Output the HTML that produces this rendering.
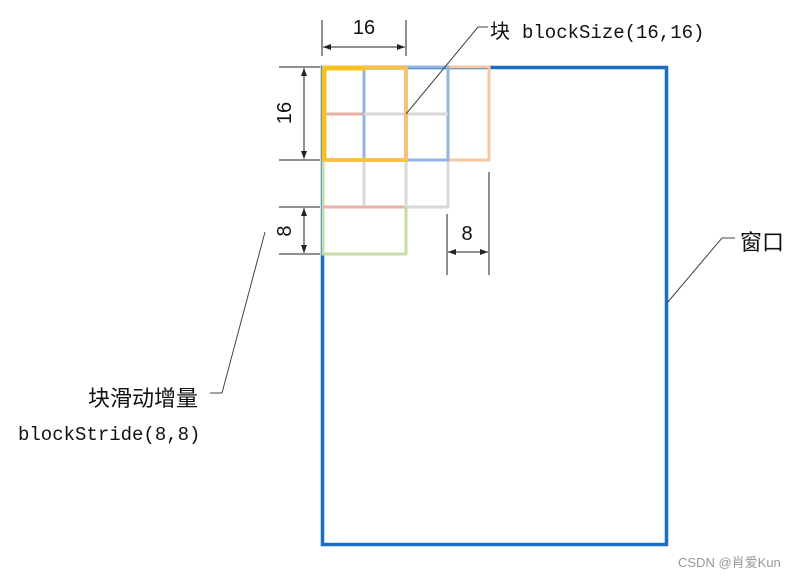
<!DOCTYPE html>
<html><head><meta charset="utf-8"><style>
html,body{margin:0;padding:0;background:#fff;}
svg{display:block;}
text{font-family:"Liberation Sans","Noto Sans CJK SC",sans-serif;}
.m{font-family:"Liberation Mono","Noto Sans CJK SC",monospace;}
</style></head><body>
<svg width="801" height="579" viewBox="0 0 801 579" xmlns="http://www.w3.org/2000/svg">
<defs>
<marker id="a" markerWidth="8" markerHeight="6" refX="8" refY="3" orient="auto-start-reverse" markerUnits="userSpaceOnUse">
<path d="M0,0 L8,3 L0,6 Z" fill="#222"/></marker>
</defs>
<rect x="322.5" y="67.5" width="344" height="477" fill="none" stroke="#1a6fc2" stroke-width="3.5"/>
<g fill="none" stroke-width="3">
<rect x="364" y="114" width="84" height="93" stroke="#d9d9d9"/>
<rect x="323" y="114" width="83" height="93" stroke="#eab0a6"/>
<rect x="323" y="160" width="83" height="94" stroke="#c5dba8"/>
<rect x="406" y="67" width="83" height="93" stroke="#f6c7a2"/>
<rect x="364" y="67" width="84" height="93" stroke="#93b4e2"/>
<line x1="364" y1="114" x2="448" y2="114" stroke="#d9d9d9"/>
<line x1="406" y1="114" x2="406" y2="207" stroke="#d9d9d9"/>
<line x1="364" y1="160" x2="364" y2="207" stroke="#d9d9d9"/>
<line x1="323" y1="207" x2="364" y2="207" stroke="#eab0a6"/>
<rect x="324" y="68" width="82" height="92" stroke="#f8c24a" stroke-width="4"/>
<line x1="406" y1="68" x2="406" y2="160" stroke="#f6c27a" stroke-width="4"/>
<line x1="324" y1="68" x2="364" y2="68" stroke="#f8c020" stroke-width="5"/>
<line x1="324" y1="68" x2="324" y2="160" stroke="#f8c020" stroke-width="5"/>
</g>
<g stroke="#222" stroke-width="1" fill="none">
<line x1="322" y1="20" x2="322" y2="56"/>
<line x1="406" y1="20" x2="406" y2="56"/>
<line x1="323" y1="47" x2="405" y2="47" marker-start="url(#a)" marker-end="url(#a)"/>
<line x1="279" y1="67" x2="320" y2="67"/>
<line x1="279" y1="160" x2="320" y2="160"/>
<line x1="304" y1="68" x2="304" y2="159" marker-start="url(#a)" marker-end="url(#a)"/>
<line x1="279" y1="207" x2="320" y2="207"/>
<line x1="279" y1="254" x2="320" y2="254"/>
<line x1="304" y1="208" x2="304" y2="253" marker-start="url(#a)" marker-end="url(#a)"/>
<line x1="447" y1="214" x2="447" y2="275"/>
<line x1="489" y1="172" x2="489" y2="275"/>
<line x1="448" y1="252" x2="488" y2="252" marker-start="url(#a)" marker-end="url(#a)"/>
<polyline points="406,114 478,27 488,27" stroke="#444"/>
<polyline points="667,303 722,238 735,238" stroke="#444"/>
<polyline points="210,393 222,393 265,232" stroke="#444"/>
</g>
<g fill="#111">
<text x="364" y="34" font-size="20" text-anchor="middle">16</text>
<text transform="translate(291,113) rotate(-90)" font-size="20" text-anchor="middle">16</text>
<text transform="translate(291,231) rotate(-90)" font-size="20" text-anchor="middle">8</text>
<text x="467" y="240" font-size="20" text-anchor="middle">8</text>
<text x="490" y="38" font-size="20">块</text>
<text x="522" y="38" font-size="19" class="m">blockSize(16,16)</text>
<text x="740" y="250" font-size="22">窗口</text>
<text x="88" y="406" font-size="22">块滑动增量</text>
<text x="18" y="440" font-size="19" class="m">blockStride(8,8)</text>
</g>
<text x="678" y="567" font-size="13" fill="#999">CSDN @肖爱Kun</text>
</svg>
</body></html>
